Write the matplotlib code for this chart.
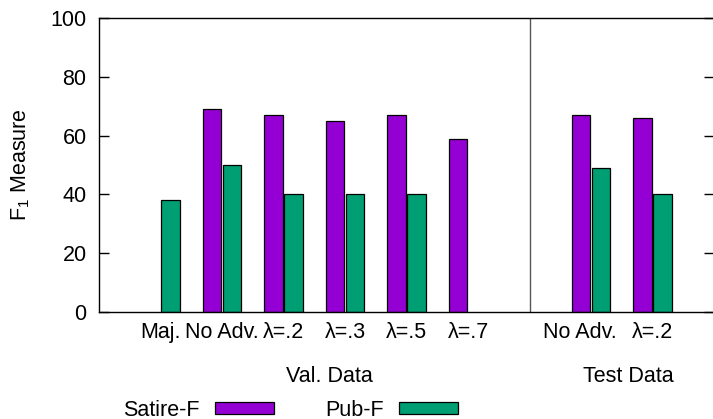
import numpy as np
import matplotlib
matplotlib.use("Agg")
import matplotlib.pyplot as plt
import matplotlib.transforms as mtransforms
from matplotlib.patches import Patch

plt.rcParams['font.family'] = ['Liberation Sans', 'DejaVu Sans']
plt.rcParams['mathtext.fontset'] = 'custom'
plt.rcParams['mathtext.rm'] = 'Liberation Sans'
plt.rcParams['mathtext.it'] = 'Liberation Sans'

# data (nan = no bar)
labels = ["Maj.", "No Adv.", "λ=.2", "λ=.3", "λ=.5", "λ=.7", "", "No Adv.", "λ=.2"]
satire = [np.nan, 69, 67, 65, 67, 59, np.nan, 67, 66]
pub = [38, 50, 40, 40, 40, np.nan, np.nan, 49, 40]
group_names = ["Val. Data", "Test Data"]
group_pos = [2.75, 7.6]
split_at = 6

purple = "#9400d3"
green = "#009e73"
fs = 15.5

fig = plt.figure(figsize=(7.13, 4.19), dpi=100)
ax = fig.add_axes([99 / 713, 1 - 312 / 419, 615 / 713, 294 / 419])

x = np.arange(len(labels))
w = 0.3
off = 0.165
ax.bar(x - off, satire, w, color=purple, edgecolor="black", linewidth=0.9)
ax.bar(x + off, pub, w, color=green, edgecolor="black", linewidth=0.9)

ax.axvline(split_at, color="#555555", linewidth=1.0)

ax.set_xlim(-1, 9)
ax.set_ylim(0, 100)
ax.set_xticks(x)
ax.set_xticklabels(labels, fontsize=fs)
ax.tick_params(axis="x", length=0, pad=7)
ax.set_yticks([0, 20, 40, 60, 80, 100])
ax.tick_params(axis="y", direction="in", length=7, width=1, labelsize=fs, pad=9,
               right=True)
for s in ax.spines.values():
    s.set_linewidth(1.0)

# test "No Adv." label sits a little left of its bars in the original
lab = ax.get_xticklabels()[7]
lab.set_transform(lab.get_transform() +
                  mtransforms.ScaledTranslation(-0.11, 0, fig.dpi_scale_trans))

ax.set_ylabel(r"F$_1$ Measure", fontsize=fs, labelpad=13)

for name, gx in zip(group_names, group_pos):
    ax.text(gx, -0.22, name, fontsize=fs, ha="center", va="center",
            transform=ax.get_xaxis_transform())

handles = [Patch(facecolor=purple, edgecolor="black", linewidth=0.9),
           Patch(facecolor=green, edgecolor="black", linewidth=0.9)]
fig.legend(handles, ["Satire-F", "Pub-F"], loc="center left",
           bbox_to_anchor=(123 / 713, 1 - 410 / 419), ncol=2, frameon=False,
           fontsize=fs, markerfirst=False, handlelength=2.75, handleheight=0.47,
           handletextpad=0.7, columnspacing=2.4, borderpad=0, borderaxespad=0)

fig.savefig("out.png", dpi=100)
